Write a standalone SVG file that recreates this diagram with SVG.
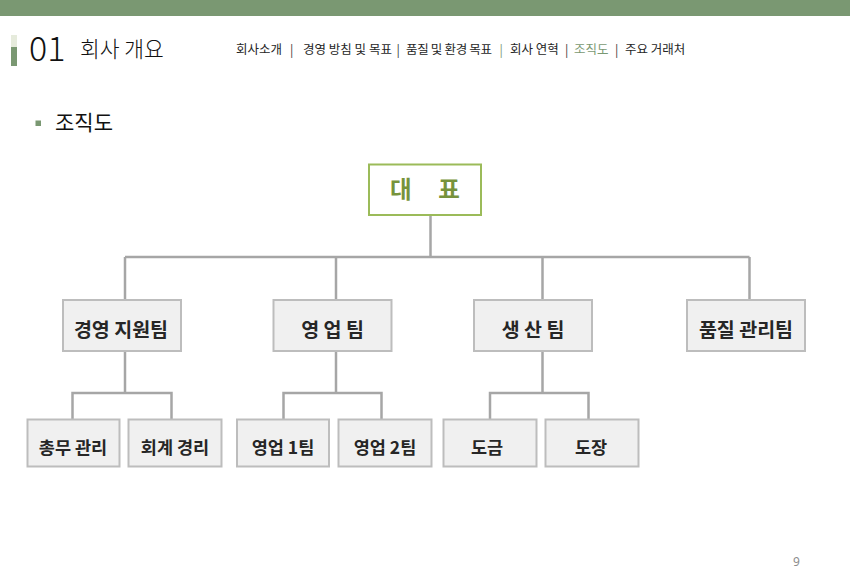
<svg xmlns="http://www.w3.org/2000/svg" width="850" height="588" viewBox="0 0 850 588">
<style>
.nav{font-family:"Noto Sans CJK KR","Noto Sans",sans-serif;font-size:12.5px;fill:#262626}
.sep{font-family:"Noto Sans CJK KR","Noto Sans",sans-serif;font-size:12.5px;fill:#3a3a3a}
.box{fill:#f0f0f0;stroke:#bdbdbd;stroke-width:2}
.l2{font-family:"Noto Sans CJK KR","Noto Sans",sans-serif;font-size:19.5px;font-weight:bold;fill:#262626;text-anchor:middle}
.l3{font-family:"Noto Sans CJK KR","Noto Sans",sans-serif;font-size:17.5px;font-weight:bold;fill:#262626;text-anchor:middle}
.conn{fill:none;stroke:#a6a6a6;stroke-width:2.5}
</style>
<rect x="0" y="0" width="850" height="16" fill="#7a9872"/>
<rect x="11" y="35" width="6" height="12" fill="#e6ebdc"/>
<rect x="11" y="47" width="6" height="19" fill="#7a9872"/>
<text x="29" y="61" font-family="Noto Sans CJK KR, Noto Sans, sans-serif" font-size="34" font-weight="300" fill="#111">01</text>
<text x="80" y="57" font-family="Noto Sans CJK KR, sans-serif" font-size="21.5" font-weight="300" fill="#111">회사 개요</text>
<g>
<text class="nav" x="236" y="54">회사소개</text>
<text class="sep" x="290" y="54">|</text>
<text class="nav" x="303" y="54">경영 방침 및 목표</text>
<text class="sep" x="396.5" y="54">|</text>
<text class="nav" x="406" y="54" textLength="86">품질 및 환경 목표</text>
<text class="sep" x="499.5" y="54" style="fill:#7a9872">|</text>
<text class="nav" x="510" y="54">회사 연혁</text>
<text class="sep" x="565" y="54">|</text>
<text class="nav" x="574" y="54" style="fill:#7a9872">조직도</text>
<text class="sep" x="615" y="54">|</text>
<text class="nav" x="625" y="54">주요 거래처</text>
</g>
<rect x="35.5" y="120.5" width="5.5" height="5.5" fill="#7a9872"/>
<text x="55" y="130" font-family="Noto Sans CJK KR, sans-serif" font-size="21" fill="#111">조직도</text>
<text x="796.5" y="566" font-family="Noto Sans, sans-serif" font-size="12" fill="#8c8c8c" text-anchor="middle">9</text>
<g id="connectors">
<path class="conn" d="M430.5 215V257M125 257H749.5M125 257V300M336 257V300M542.5 257V300M749.5 257V300"/>
<path class="conn" d="M125 351V393M72.5 419.5V393H171.5V419.5"/>
<path class="conn" d="M336 351V393M283.5 419.5V393H381.5V419.5"/>
<path class="conn" d="M542.5 351V393M490 419.5V393H588.5V419.5"/>
</g>
<g id="ceo">
<rect x="369" y="164.5" width="112" height="50.5" fill="#ffffff" stroke="#9bbb59" stroke-width="2"/>
<text x="425" y="198" font-family="Noto Sans CJK KR, sans-serif" font-size="23.5" font-weight="bold" fill="#77933c" text-anchor="middle" xml:space="preserve">대     표</text>
</g>
<g id="mgmt"><rect class="box" x="63" y="300" width="118" height="51"/><text class="l2" x="121" y="336.5">경영 지원팀</text></g>
<g id="sales"><rect class="box" x="273.5" y="300" width="118" height="51"/><text class="l2" x="332.5" y="336.5">영 업 팀</text></g>
<g id="prod"><rect class="box" x="474" y="300" width="118" height="51"/><text class="l2" x="533" y="336.5">생 산 팀</text></g>
<g id="qc"><rect class="box" x="687" y="300" width="118" height="51"/><text class="l2" x="746" y="336.5">품질 관리팀</text></g>
<g id="ga"><rect class="box" x="27.5" y="419.5" width="92" height="47"/><text class="l3" x="73" y="453.5">총무 관리</text></g>
<g id="acct"><rect class="box" x="128.5" y="419.5" width="93" height="47"/><text class="l3" x="175" y="453.5">회계 경리</text></g>
<g id="sales1"><rect class="box" x="237" y="419.5" width="92" height="47"/><text class="l3" x="283" y="453.5">영업 1팀</text></g>
<g id="sales2"><rect class="box" x="338.5" y="419.5" width="93" height="47"/><text class="l3" x="385" y="453.5">영업 2팀</text></g>
<g id="plating"><rect class="box" x="443.5" y="419.5" width="93" height="47"/><text class="l3" x="487" y="453.5">도금</text></g>
<g id="painting"><rect class="box" x="545.5" y="419.5" width="93" height="47"/><text class="l3" x="591" y="453.5">도장</text></g>
</svg>
